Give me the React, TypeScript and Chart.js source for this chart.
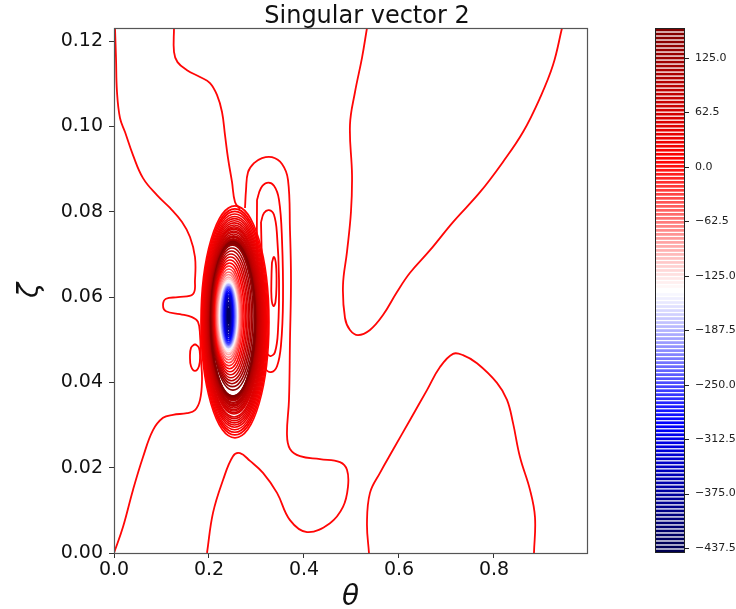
import React, { useEffect, useRef } from 'react';
import { Chart, registerables } from 'chart.js';

Chart.register(...registerables);

// ---------- axes / ticks ----------
const xRange = [0, 0.9958];
const yRange = [0, 0.1231];
const xTickValues = [0, 0.2, 0.4, 0.6, 0.8];
const xTickLabels = ['0.0', '0.2', '0.4', '0.6', '0.8'];
const yTickValues = [0, 0.02, 0.04, 0.06, 0.08, 0.1, 0.12];
const yTickLabels = ['0.00', '0.02', '0.04', '0.06', '0.08', '0.10', '0.12'];

// ---------- colorbar ----------
const levelRange = [-443.2, 159.4];
const levelCount = 131;
const cbTickValues = [125, 62.5, 0, -62.5, -125, -187.5, -250, -312.5, -375, -437.5];
const cbTickLabels = ['125.0', '62.5', '0.0', '\u221262.5', '\u2212125.0', '\u2212187.5', '\u2212250.0', '\u2212312.5', '\u2212375.0', '\u2212437.5'];

// ---------- traced contour lines [theta, zeta] ----------
const lineA = [
  [0.0021, 0.1231], [0.0042, 0.1161], [0.0063, 0.1081], [0.0126, 0.102], [0.0232, 0.0987],
  [0.04, 0.0933], [0.0611, 0.0879], [0.0905, 0.0839], [0.1179, 0.0809], [0.1432, 0.0776],
  [0.16, 0.0741], [0.1705, 0.0694], [0.1705, 0.064], [0.1663, 0.0607], [0.1347, 0.06],
  [0.1095, 0.0596], [0.1032, 0.0581], [0.1095, 0.0567], [0.1389, 0.056], [0.1642, 0.0553],
  [0.1768, 0.0542], [0.1811, 0.0511], [0.1832, 0.0453], [0.1853, 0.0406], [0.1811, 0.0359],
  [0.1705, 0.0335], [0.1537, 0.0328], [0.1242, 0.0324], [0.1032, 0.0317], [0.0821, 0.0288],
  [0.0611, 0.0225], [0.04, 0.0148], [0.0189, 0.0061], [0, 0],
];
const lineB = [
  [0.1263, 0.1231], [0.1263, 0.1175], [0.1337, 0.1151], [0.1537, 0.1132], [0.1811, 0.1116],
  [0.2021, 0.1102], [0.2168, 0.1074], [0.2274, 0.1034], [0.2337, 0.098], [0.24, 0.0926],
  [0.2484, 0.087], [0.2547, 0.0823], [0.2653, 0.0806],
];
const lineD = [
  [0.1958, 0], [0.2084, 0.0094], [0.2295, 0.0171], [0.2505, 0.0227], [0.2653, 0.0234],
  [0.2863, 0.0216], [0.3137, 0.0188], [0.3432, 0.0141], [0.3705, 0.0077], [0.4063, 0.0049],
  [0.4547, 0.007], [0.4821, 0.0108], [0.4926, 0.0155], [0.4905, 0.0195], [0.4758, 0.0213],
  [0.4337, 0.022], [0.3916, 0.0227], [0.3705, 0.0244], [0.3642, 0.0277], [0.3684, 0.0359],
  [0.3705, 0.0499], [0.3726, 0.064], [0.3705, 0.0757], [0.3663, 0.0875], [0.3537, 0.0912],
  [0.3326, 0.0928], [0.3116, 0.0926], [0.2947, 0.0914], [0.2821, 0.0893], [0.2779, 0.0851],
  [0.2758, 0.0809],
];
const loopR2 = [
  [0.3011, 0.0828], [0.3095, 0.0856], [0.3221, 0.0868], [0.3368, 0.0861], [0.3474, 0.0828],
  [0.3537, 0.0734], [0.3558, 0.0593], [0.3516, 0.0488], [0.3432, 0.0438], [0.3305, 0.0424],
  [0.3179, 0.0434], [0.3095, 0.0476], [0.3053, 0.0593], [0.3011, 0.071], [0.3011, 0.0828],
];
const loopR3 = [
  [0.3095, 0.0776], [0.3158, 0.0797], [0.3263, 0.0804], [0.3368, 0.0793], [0.3432, 0.0746],
  [0.3474, 0.064], [0.3453, 0.0523], [0.3389, 0.0471], [0.3284, 0.0462], [0.3179, 0.0481],
  [0.3137, 0.0546], [0.3116, 0.0664], [0.3095, 0.0776],
];
const loopR4 = [
  [0.3326, 0.0682], [0.3368, 0.0694], [0.3411, 0.0675], [0.3421, 0.0628], [0.34, 0.0589],
  [0.3358, 0.0579], [0.3316, 0.0598], [0.3316, 0.0652], [0.3326, 0.0682],
];
const loopL1 = [
  [0.1705, 0.049], [0.1789, 0.0481], [0.1811, 0.046], [0.1789, 0.0438], [0.1705, 0.0427],
  [0.1621, 0.0438], [0.16, 0.046], [0.1621, 0.0481], [0.1705, 0.049],
];
const lineG = [
  [0.5326, 0.1231], [0.5221, 0.1161], [0.5074, 0.1081], [0.4968, 0.1004], [0.5011, 0.0886],
  [0.4989, 0.08], [0.4905, 0.0706], [0.4821, 0.0628], [0.4863, 0.0551], [0.4968, 0.0523],
  [0.5137, 0.0511], [0.5389, 0.0523], [0.5663, 0.0558], [0.5958, 0.0612], [0.6232, 0.0657],
  [0.6653, 0.071], [0.7137, 0.0776], [0.7705, 0.0846], [0.8189, 0.0917], [0.8611, 0.0987],
  [0.8968, 0.1067], [0.9242, 0.1144], [0.9432, 0.1231],
];
const lineH = [
  [0.5368, 0], [0.5326, 0.007], [0.5389, 0.0141], [0.56, 0.0188], [0.5874, 0.0242],
  [0.6232, 0.0312], [0.6589, 0.0382], [0.6863, 0.0436], [0.7137, 0.0467], [0.7347, 0.0464],
  [0.7642, 0.0445], [0.8063, 0.0399], [0.8274, 0.0359], [0.84, 0.0305], [0.8547, 0.0225],
  [0.8758, 0.0148], [0.8863, 0.0084], [0.8842, 0],
];
const tracedLines = [lineA, lineB, lineD, loopR2, loopR3, loopR4, loopL1, lineG, lineH];
const tracedLevels = [5, 5, 5, 10, 14, 18, 10, 5, 5];

// ---------- dense central lobes (elliptical contour rings) ----------
const lobeLevels = [5, 10, 15, 20, 25, 30, 35, 40, 45, 50, 55, 60, 65, 70, 75, 80, 85, 90, 95, 100, 105, 110, 115, 120, 125, 130, 135, 140, 145, 150, 155];
const lobeCx = [0.2547, 0.2545, 0.2543, 0.2541, 0.2539, 0.2537, 0.2535, 0.2533, 0.2531, 0.2528, 0.2526, 0.2524, 0.2522, 0.252, 0.2518, 0.2516, 0.2514, 0.2512, 0.2512, 0.2509, 0.2509, 0.2507, 0.2507, 0.2505, 0.2505, 0.2505, 0.2505, 0.2505, 0.2505, 0.2505, 0.2505];
const lobeCy = [0.0542, 0.0542, 0.0542, 0.0542, 0.0542, 0.0542, 0.0542, 0.0542, 0.0542, 0.0542, 0.0544, 0.0544, 0.0544, 0.0544, 0.0544, 0.0544, 0.0544, 0.0544, 0.0544, 0.0544, 0.0546, 0.0546, 0.0546, 0.0546, 0.0546, 0.0546, 0.0546, 0.0546, 0.0546, 0.0546, 0.0546];
const lobeRx = [0.0716, 0.0699, 0.0682, 0.0665, 0.0651, 0.0636, 0.0621, 0.0608, 0.0596, 0.0583, 0.0571, 0.056, 0.0549, 0.0539, 0.0531, 0.0522, 0.0514, 0.0507, 0.0501, 0.0495, 0.0491, 0.0486, 0.0482, 0.0478, 0.0476, 0.0474, 0.0472, 0.0469, 0.0467, 0.0465, 0.0463];
const lobeRy = [0.0272, 0.0265, 0.0259, 0.0253, 0.0247, 0.0242, 0.0237, 0.0232, 0.0227, 0.0223, 0.0218, 0.0215, 0.0211, 0.0208, 0.0204, 0.02, 0.0198, 0.0196, 0.0193, 0.0191, 0.0189, 0.0187, 0.0185, 0.0184, 0.0182, 0.0181, 0.018, 0.018, 0.0179, 0.0178, 0.0178];

// ---------- core: from the ring of maxima down to the minimum ----------
const coreCy = 0.0556;
const coreLevels = [150, 130, 110, 90, 70, 50, 30, 10, -10, -30, -50, -70, -90, -110, -130, -150, -170, -190, -210, -230, -250, -270, -290, -310, -330, -350, -370, -390, -410, -430];
const coreCx = [0.2505, 0.2495, 0.2484, 0.2474, 0.2463, 0.2453, 0.2442, 0.2432, 0.2421, 0.2417, 0.2413, 0.2411, 0.2411, 0.2411, 0.2411, 0.2411, 0.2411, 0.2411, 0.2411, 0.2411, 0.2411, 0.2411, 0.2411, 0.2411, 0.2411, 0.2411, 0.2411, 0.2411, 0.2411, 0.2411];
const coreRx = [0.0453, 0.0432, 0.0411, 0.0389, 0.0368, 0.0347, 0.0326, 0.0305, 0.0284, 0.0265, 0.0248, 0.0232, 0.0217, 0.0202, 0.0189, 0.0177, 0.0164, 0.0152, 0.0139, 0.0126, 0.0114, 0.0101, 0.0088, 0.0076, 0.0065, 0.0055, 0.0044, 0.0034, 0.0025, 0.0017];
const coreRy = [0.0174, 0.0166, 0.0159, 0.0152, 0.0145, 0.0138, 0.0131, 0.0124, 0.0117, 0.011, 0.0103, 0.0097, 0.0091, 0.0087, 0.0082, 0.0079, 0.0075, 0.0073, 0.007, 0.0068, 0.0066, 0.0063, 0.0059, 0.0054, 0.0049, 0.0045, 0.0039, 0.0032, 0.0025, 0.0018];

// ---------- colormap (matplotlib "seismic") ----------
const seismicStops = [
  [0, 0, 0, 0.3],
  [0.25, 0, 0, 1],
  [0.5, 1, 1, 1],
  [0.75, 1, 0, 0],
  [1, 0.5, 0, 0],
];
function seismic(level: number): string {
  let t = (level - levelRange[0]) / (levelRange[1] - levelRange[0]);
  t = Math.max(0, Math.min(1, t));
  for (let i = 0; i < seismicStops.length - 1; i++) {
    const a = seismicStops[i], b = seismicStops[i + 1];
    if (t <= b[0]) {
      const f = (t - a[0]) / (b[0] - a[0]);
      const r = a[1] + (b[1] - a[1]) * f;
      const g = a[2] + (b[2] - a[2]) * f;
      const bl = a[3] + (b[3] - a[3]) * f;
      return `rgb(${Math.round(r * 255)},${Math.round(g * 255)},${Math.round(bl * 255)})`;
    }
  }
  return 'rgb(128,0,0)';
}

const FONT = 'DejaVu Sans';

const decorPlugin = {
  id: 'decor',
  afterDatasetsDraw(chart: any) {
    const { ctx, chartArea } = chart;
    const xs = chart.scales.x, ys = chart.scales.y;
    ctx.save();
    ctx.beginPath();
    ctx.rect(chartArea.left, chartArea.top, chartArea.right - chartArea.left, chartArea.bottom - chartArea.top);
    ctx.clip();
    const path = (cx: number, cy: number, rx: number, ry: number) => {
      const px = xs.getPixelForValue(cx);
      const py = ys.getPixelForValue(cy);
      const prx = Math.abs(xs.getPixelForValue(cx + rx) - px);
      const pry = Math.abs(ys.getPixelForValue(cy + ry) - py);
      ctx.beginPath();
      ctx.ellipse(px, py, prx, pry, 0, 0, Math.PI * 2);
    };
    ctx.lineWidth = 1.6;
    for (let i = 0; i < lobeLevels.length; i++) {
      path(lobeCx[i], lobeCy[i], lobeRx[i], lobeRy[i]);
      ctx.strokeStyle = seismic(lobeLevels[i]);
      ctx.stroke();
    }
    for (let i = 0; i < coreLevels.length; i++) {
      path(coreCx[i], coreCy, coreRx[i], coreRy[i]);
      ctx.strokeStyle = seismic(coreLevels[i]);
      ctx.stroke();
      if (i === coreLevels.length - 1) {
        ctx.fillStyle = seismic(coreLevels[i]);
        ctx.fill();
      }
    }
    ctx.restore();
  },
  afterDraw(chart: any) {
    const { ctx, chartArea } = chart;
    const cb = chart.scales.cb;
    ctx.save();
    // frame
    ctx.strokeStyle = '#555';
    ctx.lineWidth = 1.2;
    ctx.strokeRect(chartArea.left + 0.5, chartArea.top + 0.5, chartArea.right - chartArea.left, chartArea.bottom - chartArea.top);

    // colorbar
    const cbL = 655, cbR = 685;
    ctx.fillStyle = '#fff';
    const top = cb.getPixelForValue(levelRange[1]);
    const bot = cb.getPixelForValue(levelRange[0]);
    ctx.fillRect(cbL, top, cbR - cbL, bot - top);
    ctx.lineWidth = 2.7;
    const step = (levelRange[1] - levelRange[0]) / levelCount;
    for (let i = 0; i < levelCount; i++) {
      const lv = levelRange[0] + step * (i + 0.5);
      const py = cb.getPixelForValue(lv);
      ctx.strokeStyle = seismic(lv);
      ctx.beginPath();
      ctx.moveTo(cbL, py);
      ctx.lineTo(cbR, py);
      ctx.stroke();
    }
    ctx.strokeStyle = '#222';
    ctx.lineWidth = 1;
    ctx.strokeRect(cbL + 0.5, top + 0.5, cbR - cbL - 1, bot - top - 1);
    ctx.beginPath();
    for (const v of cbTickValues) {
      const py = Math.round(cb.getPixelForValue(v)) + 0.5;
      ctx.moveTo(cbR, py);
      ctx.lineTo(cbR + 4, py);
    }
    ctx.stroke();
    ctx.fillStyle = '#222';
    ctx.font = `11px "${FONT}"`;
    ctx.textAlign = 'left';
    ctx.textBaseline = 'middle';
    cbTickValues.forEach((v, i) => {
      ctx.fillText(cbTickLabels[i], 695, cb.getPixelForValue(v));
    });

    // title and axis labels
    ctx.fillStyle = '#111';
    ctx.textAlign = 'center';
    ctx.textBaseline = 'alphabetic';
    ctx.font = `24px "${FONT}"`;
    ctx.fillText('Singular vector 2', 367, 23);
    ctx.font = `italic 28px "${FONT}"`;
    ctx.fillText('\u03b8', (chartArea.left + chartArea.right) / 2, 605);
    ctx.translate(31, (chartArea.top + chartArea.bottom) / 2);
    ctx.rotate(-Math.PI / 2);
    ctx.textBaseline = 'middle';
    ctx.fillText('\u03b6', 0, 0);
    ctx.restore();
  },
};

export default function App() {
  const ref = useRef<HTMLCanvasElement | null>(null);
  useEffect(() => {
    if (!ref.current) return;
    Chart.defaults.font.family = FONT;
    const datasets = tracedLines.map((ln, i) => ({
      data: ln.map(([x, y]) => ({ x, y })),
      showLine: true,
      borderColor: seismic(tracedLevels[i]),
      borderWidth: 1.8,
      pointRadius: 0,
      pointHoverRadius: 0,
      tension: 0.4,
      fill: false,
    }));
    const chart = new Chart(ref.current, {
      type: 'scatter',
      data: { datasets },
      plugins: [decorPlugin],
      options: {
        animation: false,
        responsive: false,
        devicePixelRatio: 1,
        events: [],
        layout: { padding: { top: 28, left: 0, right: 0, bottom: 0 } },
        plugins: { legend: { display: false }, tooltip: { enabled: false }, title: { display: false } },
        scales: {
          x: {
            type: 'linear',
            position: 'bottom',
            min: xRange[0],
            max: xRange[1],
            afterFit: (s: any) => { s.height = 56; s.paddingLeft = 0; s.paddingRight = 0; },
            afterBuildTicks: (s: any) => { s.ticks = xTickValues.map((v) => ({ value: v })); },
            ticks: {
              callback: (_v: any, i: number) => xTickLabels[i],
              font: { size: 19, family: FONT },
              color: '#111',
              padding: 1,
              maxRotation: 0,
              autoSkip: false,
            },
            grid: { display: true, drawOnChartArea: false, drawTicks: true, tickLength: 5, tickColor: '#333', tickWidth: 1 },
            border: { display: false },
          },
          y: {
            type: 'linear',
            position: 'left',
            min: yRange[0],
            max: yRange[1],
            afterFit: (s: any) => { s.width = 114; s.paddingTop = 0; s.paddingBottom = 0; },
            afterBuildTicks: (s: any) => { s.ticks = yTickValues.map((v) => ({ value: v })); },
            ticks: {
              callback: (_v: any, i: number) => yTickLabels[i],
              font: { size: 19, family: FONT },
              color: '#111',
              padding: 6,
              autoSkip: false,
            },
            grid: { display: true, drawOnChartArea: false, drawTicks: true, tickLength: 5, tickColor: '#333', tickWidth: 1 },
            border: { display: false },
          },
          cb: {
            type: 'linear',
            axis: 'y',
            position: 'right',
            min: levelRange[0],
            max: levelRange[1],
            afterFit: (s: any) => { s.width = 149; s.paddingTop = 0; s.paddingBottom = 0; },
            ticks: { display: false },
            grid: { display: false, drawTicks: false },
            border: { display: false },
          },
        },
      } as any,
    });
    return () => chart.destroy();
  }, []);
  return (
    <div style={{ position: 'absolute', left: 0, top: 0, width: 736, height: 609, background: '#fff' }}>
      <canvas ref={ref} width={736} height={609} style={{ width: 736, height: 609, display: 'block' }} />
    </div>
  );
}
